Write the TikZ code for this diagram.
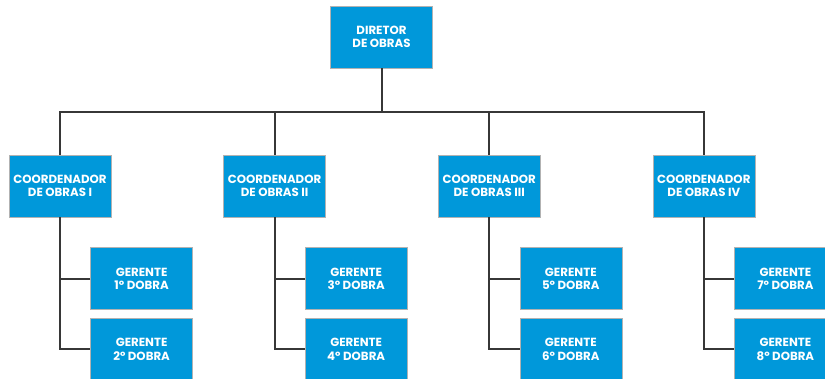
\documentclass[tikz,border=0pt]{standalone}
\usepackage{fontspec}
\setmainfont{Poppins}
\usetikzlibrary{positioning, calc}
\definecolor{boxblue}{RGB}{0, 152, 218}
\definecolor{linegray}{RGB}{55, 55, 55}
\tikzstyle{cargo} = [rectangle, minimum width=102pt, minimum height=62pt, inner sep=0pt, align=center, draw=gray!60, line width=0.6pt, fill=boxblue, text=white, font=\fontsize{11.8}{13.5}\selectfont\bfseries]
\tikzstyle{conn} = [draw=linegray, line width=2pt]

\begin{document}
\begin{tikzpicture}[node distance=8pt]
      \useasboundingbox (0pt,0pt) rectangle (825pt,-378pt);
      \node[cargo] (dir) at (381.5pt,-37pt) {DIRETOR\\DE OBRAS};
      \node[cargo] (c1) at (60pt,-186pt) {COORDENADOR\\DE OBRAS I};
      \node[cargo, right=112pt of c1] (c2) {COORDENADOR\\DE OBRAS II};
      \node[cargo, right=112pt of c2] (c3) {COORDENADOR\\DE OBRAS III};
      \node[cargo, right=112pt of c3] (c4) {COORDENADOR\\DE OBRAS IV};

      \node[cargo, below right=30pt and -21pt of c1] (g1) {GERENTE\\1º DOBRA};
      \node[cargo, below=of g1] (g2) {GERENTE\\2º DOBRA};
      \node[cargo, below right=30pt and -21pt of c2] (g3) {GERENTE\\3º DOBRA};
      \node[cargo, below=of g3] (g4) {GERENTE\\4º DOBRA};
      \node[cargo, below right=30pt and -21pt of c3] (g5) {GERENTE\\5º DOBRA};
      \node[cargo, below=of g5] (g6) {GERENTE\\6º DOBRA};
      \node[cargo, below right=30pt and -21pt of c4] (g7) {GERENTE\\7º DOBRA};
      \node[cargo, below=of g7] (g8) {GERENTE\\8º DOBRA};

      % director to coordinators
      \draw[conn] (dir.south) -- ++(0,-44pt) coordinate (bus);
      \draw[conn] (c1.north) |- (bus) -| (c4.north);
      \draw[conn] (c2.north) -- (c2.north |- bus);
      \draw[conn] (c3.north) -- (c3.north |- bus);

      % coordinators to managers
      \draw[conn] (c1.south) |- (g2.west);
      \draw[conn] (g1.west) -- (g1.west -| c1.south);
      \draw[conn] (c2.south) |- (g4.west);
      \draw[conn] (g3.west) -- (g3.west -| c2.south);
      \draw[conn] (c3.south) |- (g6.west);
      \draw[conn] (g5.west) -- (g5.west -| c3.south);
      \draw[conn] (c4.south) |- (g8.west);
      \draw[conn] (g7.west) -- (g7.west -| c4.south);
    \end{tikzpicture}
\end{document}
